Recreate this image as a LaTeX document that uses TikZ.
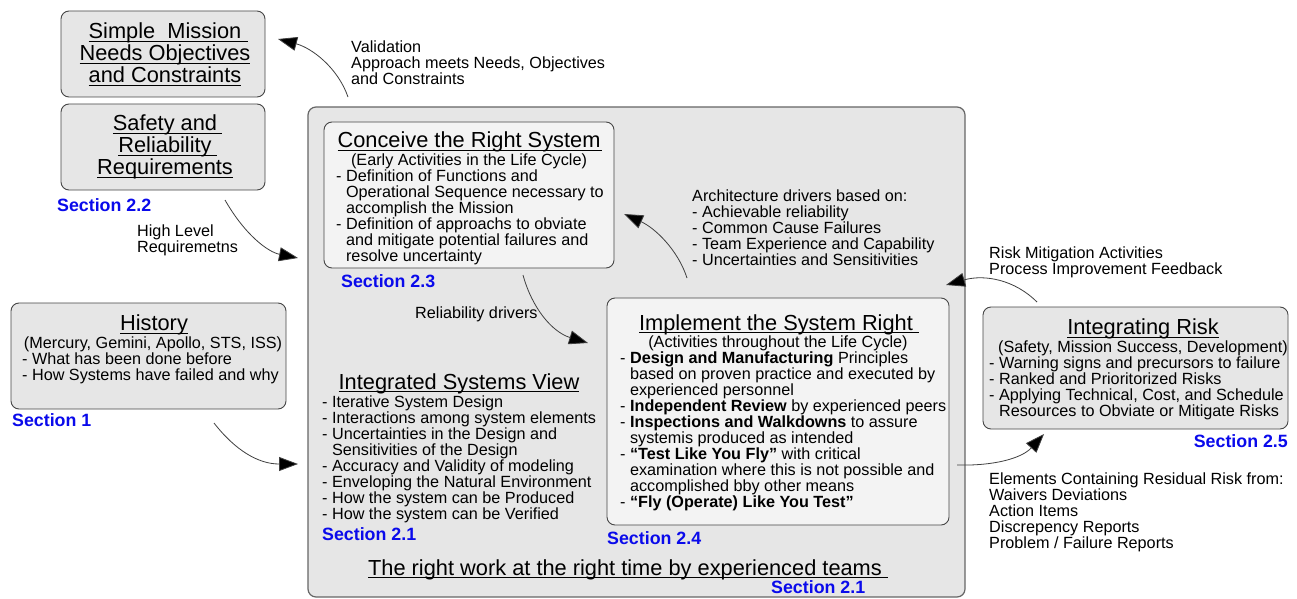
\documentclass[tikz,border=0pt]{standalone}
\usepackage{fontspec}
\setmainfont{Liberation Sans}
\usetikzlibrary{arrows.meta}
\definecolor{secblue}{RGB}{10,10,235}
\definecolor{boxgray}{RGB}{230,230,230}
\definecolor{innergray}{RGB}{243,243,243}
\definecolor{edgegray}{RGB}{70,70,70}
\newsavebox\ulbox
\newcommand\ulx[2][0pt]{\sbox\ulbox{#2\kern#1}\rlap{\rule[-3pt]{\wd\ulbox}{0.9pt}}#2}
\newcommand\ii{\hphantom{- }}
\begin{document}
\begin{tikzpicture}[x=1pt,y=-1pt,
  box/.style={draw=edgegray, line width=0.9pt, rounded corners=8pt, fill=boxgray, inner sep=0pt},
  inbox/.style={box, fill=innergray},
  ttl/.style={font=\fontsize{21.8}{22}\selectfont, inner sep=0pt, align=center, anchor=north},
  sub/.style={font=\fontsize{16.2}{16}\selectfont, inner sep=0pt, align=center, anchor=north},
  body/.style={font=\fontsize{16.2}{16}\selectfont, inner sep=0pt, align=left, anchor=north west},
  sec/.style={font=\fontsize{17.8}{18}\selectfont\bfseries, text=secblue, inner sep=0pt, anchor=west},
  conn/.style={draw=black!75, line width=0.8pt, -{Triangle[length=19pt,width=14pt,fill=black]}},
]
\useasboundingbox (0,0) rectangle (1297,599);
\fill[white] (0,0) rectangle (1297,599);

% boxes
\node[box, minimum width=204pt, minimum height=86pt] (mission) at (163,54) {};
\node[box, minimum width=204pt, minimum height=86pt] (safety) at (163,147) {};
\node[box, minimum width=275pt, minimum height=106pt] (history) at (148.5,356) {};
\node[box, draw=black!60, line width=1.2pt, minimum width=657pt, minimum height=490pt] (main) at (636.5,352) {};
\node[inbox, minimum width=290pt, minimum height=146pt] (conceive) at (469,195) {};
\node[inbox, minimum width=342pt, minimum height=227pt] (implement) at (778,411.5) {};
\node[box, minimum width=305pt, minimum height=122pt] (risk) at (1135.5,368) {};

% texts in left boxes
\node[ttl] (missiont) at (165,23) {\ulx[7pt]{Simple\ \ Mission}\\ \ulx{Needs Objectives}\\ \ulx{and Constraints}};
\node[ttl] (safetyt) at (165,115) {\ulx[5pt]{Safety and}\\ \ulx[5pt]{Reliability}\\ \ulx{Requirements}};
\node[ttl] (historyt) at (154,315) {\ulx{History}};
\node[sub] (historys) at (153,337) {(Mercury, Gemini, Apollo, STS, ISS)};
\node[body] (historyl) at (22,353) {- What has been done before\\- How Systems have failed and why};

% conceive
\node[ttl] (conceivet) at (469,132) {\ulx[2pt]{Conceive the Right System}};
\node[sub] (conceives) at (469,154) {(Early Activities in the Life Cycle)};
\node[body] (conceivel) at (336,170) {- Definition of Functions and\\
\ii Operational Sequence necessary to\\
\ii accomplish the Mission\\
- Definition of approachs to obviate\\
\ii and mitigate potential failures and\\
\ii resolve uncertainty};

% architecture
\node[body] (arch) at (692,190) {Architecture drivers based on:\\
- Achievable reliability\\
- Common Cause Failures\\
- Team Experience and Capability\\
- Uncertainties and Sensitivities};

% implement
\node[ttl] (implementt) at (776,314) {\ulx[6pt]{Implement the System Right}};
\node[sub] (implements) at (778,336) {(Activities throughout the Life Cycle)};
\node[body] (implementl) at (620,352) {- \textbf{Design and Manufacturing} Principles\\
\ii based on proven practice and executed by\\
\ii experienced personnel\\
- \textbf{Independent Review} by experienced peers\\
- \textbf{Inspections and Walkdowns} to assure\\
\ii systemis produced as intended\\
- \textbf{“Test Like You Fly”} with critical\\
\ii examination where this is not possible and\\
\ii accomplished bby other means\\
- \textbf{“Fly (Operate) Like You Test”}};

% integrated systems view
\node[ttl] (isvt) at (459,373) {\ulx{Integrated Systems View}};
\node[body] (isvl) at (322,396) {- Iterative System Design\\
- Interactions among system elements\\
- Uncertainties in the Design and\\
\ii Sensitivities of the Design\\
- Accuracy and Validity of modeling\\
- Enveloping the Natural Environment\\
- How the system can be Produced\\
- How the system can be Verified};

\node[ttl] (teams) at (625,559) {\ulx[6pt]{The right work at the right time by experienced teams}};

% risk
\node[ttl] (riskt) at (1143,319) {\ulx{Integrating Risk}};
\node[sub] (risks) at (1143,341) {(Safety, Mission Success, Development)};
\node[body] (riskl) at (989,357) {- Warning signs and precursors to failure\\
- Ranked and Prioritorized Risks\\
- Applying Technical, Cost, and Schedule\\
\ii Resources to Obviate or Mitigate Risks};

% free labels
\node[body] (valid) at (351,41) {Validation\\Approach meets Needs, Objectives\\and Constraints};
\node[body] (highlvl) at (137,225) {High Level\\Requiremetns};
\node[body] (reldrv) at (415,307) {Reliability drivers};
\node[body] (riskmit) at (989,247) {Risk Mitigation Activities\\Process Improvement Feedback};
\node[body] (resid) at (989,473) {Elements Containing Residual Risk from:\\
Waivers Deviations\\
Action Items\\
Discrepency Reports\\
Problem / Failure Reports};

% section labels
\node[sec] (s22) at (57,205) {Section 2.2};
\node[sec] (s1) at (12,420) {Section 1};
\node[sec] (s23) at (341,281) {Section 2.3};
\node[sec] (s24) at (607,538) {Section 2.4};
\node[sec] (s21a) at (322,534) {Section 2.1};
\node[sec] (s21b) at (771,587) {Section 2.1};
\node[sec, anchor=east] (s25) at (1288,441) {Section 2.5};

% connector ends
\coordinate (va) at (348,97);   \coordinate (vb) at (278,39);
\coordinate (ha) at (225,200);  \coordinate (hb) at (298,258);
\coordinate (hia) at (214,423); \coordinate (hib) at (298,464);
\coordinate (ra) at (523,275);  \coordinate (rb) at (588,343);
\coordinate (aa) at (687,278);  \coordinate (ab) at (624,214);
\coordinate (ma) at (1037,302); \coordinate (mb) at (946,285);
\coordinate (ea) at (957,465);  \coordinate (eb) at (1044,434);

\draw[conn] (va) .. controls (338,68) and (312,48) .. (vb);
\draw[conn] (ha) .. controls (245,235) and (268,252) .. (hb);
\draw[conn] (hia) .. controls (235,450) and (258,464) .. (hib);
\draw[conn] (ra) .. controls (532,308) and (552,332) .. (rb);
\draw[conn] (aa) .. controls (678,250) and (655,228) .. (ab);
\draw[conn] (ma) .. controls (1015,280) and (985,274) .. (mb);
\draw[conn] (ea) .. controls (995,466) and (1022,458) .. (eb);
\end{tikzpicture}
\end{document}
